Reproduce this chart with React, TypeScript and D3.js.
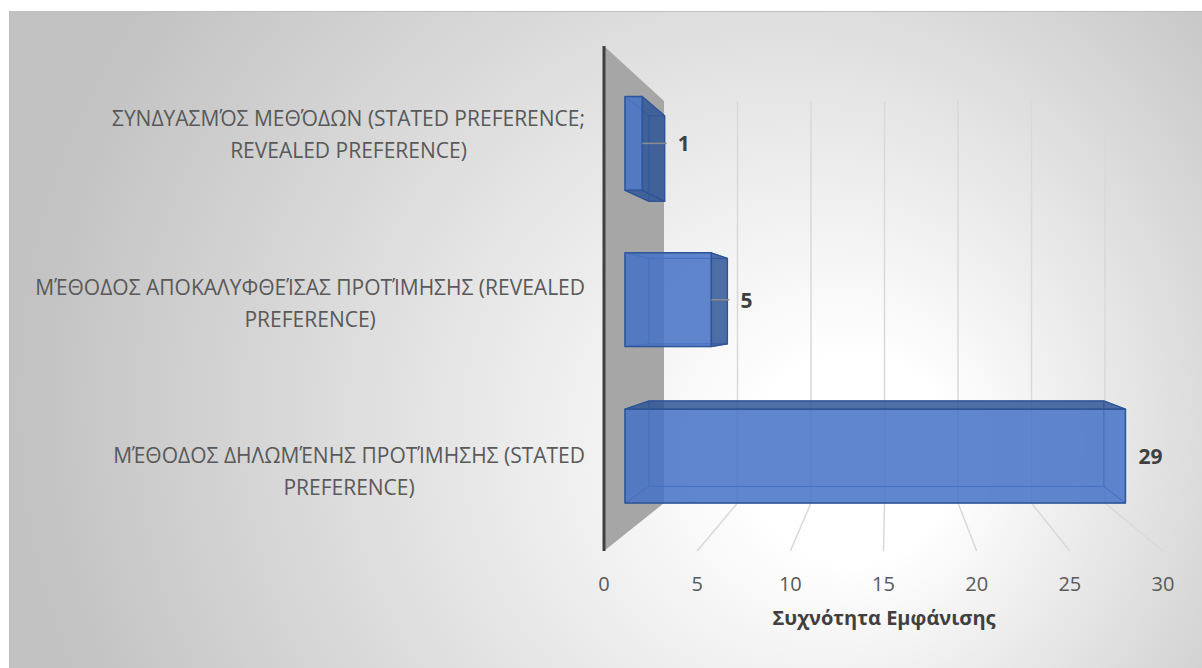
import React from "react";
import * as d3 from "d3";

// ---- data (Excel order: first category at the bottom) ----
const categories = [
  "ΜΈΘΟΔΟΣ ΔΗΛΩΜΈΝΗΣ ΠΡΟΤΊΜΗΣΗΣ (STATED PREFERENCE)",
  "ΜΈΘΟΔΟΣ ΑΠΟΚΑΛΥΦΘΕΊΣΑΣ ΠΡΟΤΊΜΗΣΗΣ (REVEALED PREFERENCE)",
  "ΣΥΝΔΥΑΣΜΌΣ ΜΕΘΌΔΩΝ (STATED PREFERENCE; REVEALED PREFERENCE)",
];
const categoryLines = [
  ["ΜΈΘΟΔΟΣ ΔΗΛΩΜΈΝΗΣ ΠΡΟΤΊΜΗΣΗΣ (STATED", "PREFERENCE)"],
  ["ΜΈΘΟΔΟΣ ΑΠΟΚΑΛΥΦΘΕΊΣΑΣ ΠΡΟΤΊΜΗΣΗΣ (REVEALED", "PREFERENCE)"],
  ["ΣΥΝΔΥΑΣΜΌΣ ΜΕΘΌΔΩΝ (STATED PREFERENCE;", "REVEALED PREFERENCE)"],
];
const values = [29, 5, 1];
const xTicks = [0, 5, 10, 15, 20, 25, 30];
const xTitle = "Συχνότητα Εμφάνισης";

const W = 1202;
const H = 668;
const FONT = "'Open Sans', 'Noto Sans', sans-serif";

let measureCtx: CanvasRenderingContext2D | null = null;
function measure(text: string, font: string): number {
  if (!measureCtx) {
    const c = document.createElement("canvas");
    measureCtx = c.getContext("2d");
  }
  if (!measureCtx) return text.length * 8;
  measureCtx.font = font;
  return measureCtx.measureText(text).width;
}

export default function App() {
  // front plane / back plane scales
  const xF = d3.scaleLinear().domain([0, 30]).range([604, 1163]);
  const xB = d3.scaleLinear().domain([0, 30]).range([664, 1105]);
  const yF = d3.scaleLinear().domain([0, 1]).range([46, 551]);
  const yB = d3.scaleLinear().domain([0, 1]).range([101, 503]);
  const band = d3
    .scaleBand<string>()
    .domain(categories.slice().reverse())
    .range([0, 1])
    .paddingInner(0.4)
    .paddingOuter(0.2);

  const proj = (v: number, f: number, t: number): [number, number] => [
    xF(v) * (1 - t) + xB(v) * t,
    yF(f) * (1 - t) + yB(f) * t,
  ];
  const pts = (arr: [number, number][]) => arr.map((p) => p.join(",")).join(" ");

  const t1 = 0.35;
  const t2 = 0.75;

  const wall = pts([proj(0, 0, 0), proj(0, 0, 1), proj(0, 1, 1), proj(0, 1, 0)]);

  const catFontSize = 21;
  const catFont = `${catFontSize}px ${FONT}`;
  const labelRight = 585;

  return (
    <svg
      width={W}
      height={H}
      style={{ position: "absolute", left: 0, top: 0, display: "block" }}
      fontFamily={FONT}
    >
      <defs>
        <radialGradient
          id="bg"
          gradientUnits="userSpaceOnUse"
          cx={700}
          cy={400}
          r={680}
          fx={880}
          fy={470}
        >
          <stop offset="0" stopColor="#FFFFFF" />
          <stop offset="0.15" stopColor="#FFFFFF" />
          <stop offset="1" stopColor="#C2C2C2" />
        </radialGradient>
      </defs>
      <rect x={0} y={0} width={W} height={H} fill="#FFFFFF" />
      <rect x={9.5} y={11.5} width={W} height={H} fill="url(#bg)" stroke="#BFBFBF" strokeWidth={1} />

      {/* side wall */}
      <polygon points={wall} fill="#A6A6A6" />

      {/* gridlines: back wall + floor */}
      {xTicks
        .filter((v) => v !== 0)
        .map((v) => {
          const a = proj(v, 0, 1);
          const b = proj(v, 1, 1);
          const c = proj(v, 1, 0);
          return (
            <g key={v} stroke="#D9D9D9" strokeWidth={1.5} fill="none">
              <line x1={a[0]} y1={a[1]} x2={b[0]} y2={b[1]} />
              <line x1={b[0]} y1={b[1]} x2={c[0]} y2={c[1]} />
            </g>
          );
        })}

      {/* front edge of wall */}
      <line x1={xF(0)} y1={yF(0)} x2={xF(0)} y2={yF(1)} stroke="#404040" strokeWidth={3} />

      {/* bars */}
      {categories.map((cat, i) => {
        const v = values[i];
        const f0 = band(cat) as number;
        const f1 = f0 + band.bandwidth();
        const P = (vv: number, f: number, t: number) => proj(vv, f, t);
        const front = [P(0, f0, t1), P(v, f0, t1), P(v, f1, t1), P(0, f1, t1)] as [number, number][];
        const back = [P(0, f0, t2), P(v, f0, t2), P(v, f1, t2), P(0, f1, t2)] as [number, number][];
        const top = [P(0, f0, t1), P(v, f0, t1), P(v, f0, t2), P(0, f0, t2)] as [number, number][];
        const bottom = [P(0, f1, t1), P(v, f1, t1), P(v, f1, t2), P(0, f1, t2)] as [number, number][];
        const right = [P(v, f0, t1), P(v, f0, t2), P(v, f1, t2), P(v, f1, t1)] as [number, number][];
        const left = [P(0, f0, t1), P(0, f0, t2), P(0, f1, t2), P(0, f1, t1)] as [number, number][];

        const rightVis = back[1][0] > front[1][0];
        const topVis = back[0][1] < front[0][1];
        const bottomVis = back[3][1] > front[3][1];

        const sides = [
          { poly: top, vis: topVis },
          { poly: bottom, vis: bottomVis },
          { poly: right, vis: rightVis },
          { poly: left, vis: false },
        ];

        const fm = (f0 + f1) / 2;
        const ly = P(v, fm, t1)[1];
        const frontRight = front[1][0];
        const outer = Math.max(front[1][0], back[1][0]);
        const lx = outer + 13;

        return (
          <g key={cat}>
            {/* hidden edges */}
            <polygon points={pts(back)} fill="none" stroke="#3A66B5" strokeOpacity={0.75} strokeWidth={1} />
            {sides
              .filter((s) => !s.vis)
              .map((s, k) => (
                <polygon key={"h" + k} points={pts(s.poly)} fill="none" stroke="#3A66B5" strokeOpacity={0.75} strokeWidth={1} />
              ))}
            {/* visible side faces */}
            {sides
              .filter((s) => s.vis)
              .map((s, k) => (
                <polygon
                  key={"v" + k}
                  points={pts(s.poly)}
                  fill="#2F5597"
                  fillOpacity={0.85}
                  stroke="#2F5597"
                  strokeWidth={1.3}
                  strokeLinejoin="round"
                />
              ))}
            {/* front face */}
            <polygon
              points={pts(front)}
              fill="#4472C4"
              fillOpacity={0.85}
              stroke="#2F5597"
              strokeWidth={1.5}
              strokeLinejoin="round"
            />
            {/* leader line + data label */}
            {outer - frontRight > 3 && (
              <line x1={frontRight} y1={ly} x2={outer + 2} y2={ly} stroke="#8C8C8C" strokeWidth={1.5} />
            )}
            <text
              x={lx}
              y={ly}
              dominantBaseline="central"
              fontSize={21}
              fontWeight="bold"
              fill="#404040"
            >
              {v}
            </text>
          </g>
        );
      })}

      {/* category labels */}
      {categories.map((cat, i) => {
        const lines = categoryLines[i];
        const fm = (band(cat) as number) + band.bandwidth() / 2;
        const cy = yF(fm) + 4;
        const maxW = Math.max(...lines.map((l) => measure(l, catFont)));
        const cx = labelRight - maxW / 2;
        const lh = 32;
        const y0 = cy - ((lines.length - 1) * lh) / 2;
        return (
          <text key={cat} fontSize={catFontSize} fill="#595959" textAnchor="middle" dominantBaseline="central">
            {lines.map((l, k) => (
              <tspan key={k} x={cx} y={y0 + k * lh}>
                {l}
              </tspan>
            ))}
          </text>
        );
      })}

      {/* x tick labels */}
      {xTicks.map((v) => (
        <text key={v} x={xF(v)} y={583} textAnchor="middle" dominantBaseline="central" fontSize={20} fill="#595959">
          {v}
        </text>
      ))}

      {/* axis title */}
      <text x={884} y={617} textAnchor="middle" dominantBaseline="central" fontSize={20} fontWeight="bold" fill="#404040">
        {xTitle}
      </text>
    </svg>
  );
}
